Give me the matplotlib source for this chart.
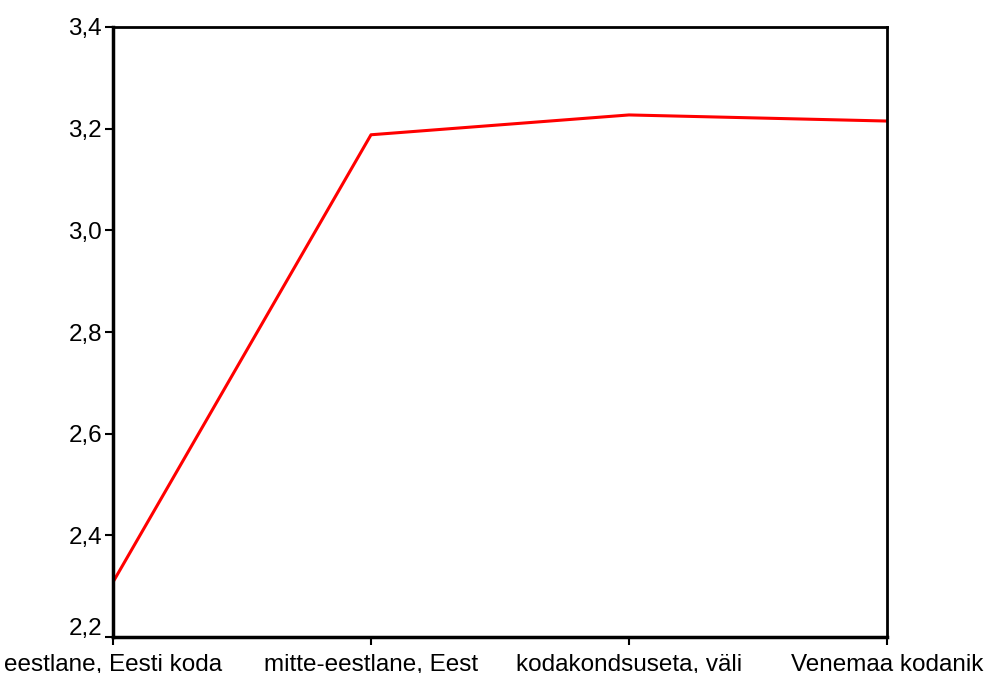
import matplotlib
matplotlib.use("Agg")
import matplotlib.pyplot as plt
import matplotlib.transforms as mtransforms
from matplotlib.ticker import FuncFormatter

categories = ["eestlane, Eesti koda", "mitte-eestlane, Eest", "kodakondsuseta, väli", "Venemaa kodanik"]
values = [2.308, 3.188, 3.227, 3.215]
yticks = [2.2, 2.4, 2.6, 2.8, 3.0, 3.2, 3.4]

plt.rcParams["font.family"] = ["Liberation Sans", "DejaVu Sans"]

fig = plt.figure(figsize=(9.97, 6.73), dpi=100)
ax = fig.add_axes([113 / 997, 1 - 637 / 673, (887 - 113) / 997, (637 - 27) / 673])

x = list(range(len(categories)))
ax.plot(x, values, color="#ff0000", linewidth=2.2)

ax.set_xlim(0, len(categories) - 1)
ax.set_ylim(2.2, 3.4)
ax.set_xticks(x)
ax.set_xticklabels(categories)
ax.set_yticks(yticks)
ax.yaxis.set_major_formatter(FuncFormatter(lambda v, p: f"{v:.1f}".replace(".", ",")))
ax.tick_params(axis="y", labelsize=17.5, direction="out", length=6, width=1.5, pad=2)
ax.tick_params(axis="x", labelsize=17.5, direction="out", length=6, width=1.5, pad=6)

# bottom y label sits a little higher, clear of the x labels
fig.canvas.draw()
lab = ax.get_yticklabels()[0]
lab.set_transform(lab.get_transform() + mtransforms.ScaledTranslation(0, 10 / 100, fig.dpi_scale_trans))

ax.spines["left"].set_linewidth(2.5)
ax.spines["bottom"].set_linewidth(2.5)
ax.spines["top"].set_linewidth(2)
ax.spines["right"].set_linewidth(2)

fig.savefig("out.png", dpi=100)
